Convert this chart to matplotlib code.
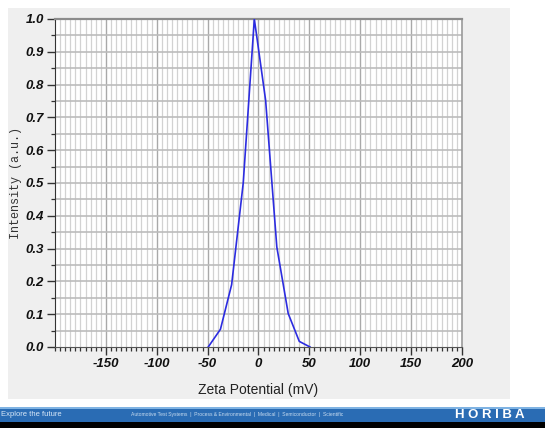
import matplotlib
matplotlib.use("Agg")
from matplotlib import pyplot as plt
from matplotlib.patches import Rectangle
from matplotlib.ticker import MultipleLocator

# Zeta potential distribution (mV vs normalised intensity)
zeta_mv = [-49.4, -37.4, -26.4, -15.0, -4.1, 7.0, 18.0, 29.2, 40.1, 50.6]
intensity = [0.0, 0.054, 0.19, 0.5, 1.0, 0.752, 0.305, 0.102, 0.017, 0.0]

x_ticks = [-150, -100, -50, 0, 50, 100, 150, 200]
y_ticks = [0.0, 0.1, 0.2, 0.3, 0.4, 0.5, 0.6, 0.7, 0.8, 0.9, 1.0]

plt.rcParams['font.family'] = ['Liberation Sans', 'DejaVu Sans']

fig = plt.figure(figsize=(5.45, 4.28), dpi=100)
fig.patch.set_facecolor('white')

# background layer: grey report panel and footer banner
bg = fig.add_axes([0, 0, 1, 1], zorder=0)
bg.set_xlim(0, 1)
bg.set_ylim(0, 1)
bg.axis('off')
bg.add_patch(Rectangle((0.0147, 0.0678), 0.9211, 0.9136, facecolor='#efefef', edgecolor='none'))
bg.add_patch(Rectangle((0.0, 0.0), 1.0, 0.016, facecolor='black', edgecolor='none'))
bg.add_patch(Rectangle((0.0, 0.014), 1.0, 0.035, facecolor='#2a6cb4', edgecolor='none'))
bg.add_patch(Rectangle((0.0, 0.044), 1.0, 0.006, facecolor='#7fb3e3', edgecolor='none'))
bg.text(0.002, 0.031, 'Explore the future', fontsize=5.5, color='#d8e8f8', va='center')
bg.text(0.24, 0.031,
        'Automotive Test Systems  |  Process & Environmental  |  Medical  |  Semiconductor  |  Scientific',
        fontsize=3.6, color='#c8dcf0', va='center')
bg.text(0.835, 0.031, 'H O R I B A', fontsize=9.5, fontweight='bold', color='white',
        va='center')

ax = fig.add_axes([0.1009, 0.1893, 0.7468, 0.7664], zorder=2)
ax.set_facecolor('white')

ax.plot(zeta_mv, intensity, color='#2c2ce0', lw=1.2, zorder=5)

ax.set_xlim(-200, 200)
ax.set_ylim(0, 1.0)

# fine grid every 5 mV / 0.05, darker lines on the 50 mV majors
for xv in range(-195, 200, 5):
    if xv % 50 == 0:
        ax.axvline(xv, color='#a9a9a9', lw=1.0, zorder=1)
    else:
        ax.axvline(xv, color='#d2d2d2', lw=0.9, zorder=1)
for i in range(1, 20):
    ax.axhline(i * 0.05, color='#bcbcbc', lw=1.2, zorder=1)

ax.set_xticks(x_ticks)
ax.set_xticklabels([str(v) for v in x_ticks])
ax.xaxis.set_minor_locator(MultipleLocator(5))
ax.set_yticks(y_ticks)
ax.set_yticklabels([f'{v:.1f}' for v in y_ticks])
ax.yaxis.set_minor_locator(MultipleLocator(0.05))

for lab in ax.get_xticklabels() + ax.get_yticklabels():
    lab.set_fontweight('bold')
    lab.set_fontstyle('italic')
    lab.set_fontsize(9.5)
    lab.set_color('#111111')

ax.tick_params(axis='both', which='major', direction='out', length=6, width=1.0,
               color='#333333', pad=2)
ax.tick_params(axis='both', which='minor', direction='out', length=3, width=0.9,
               color='#333333')

ax.spines['top'].set_color('#8c8c8c')
ax.spines['top'].set_linewidth(1.6)
ax.spines['right'].set_color('#9a9a9a')
ax.spines['right'].set_linewidth(1.2)
ax.spines['left'].set_color('#333333')
ax.spines['bottom'].set_color('#555555')

ax.set_xlabel('Zeta Potential (mV)', fontsize=10, color='#222222', labelpad=9)
ax.set_ylabel('Intensity (a.u.)', fontsize=8.5, color='#333333',
              family=['Liberation Mono', 'DejaVu Sans Mono'])
ax.yaxis.set_label_coords(-0.08, 0.5)

fig.savefig('out.png', dpi=100)
